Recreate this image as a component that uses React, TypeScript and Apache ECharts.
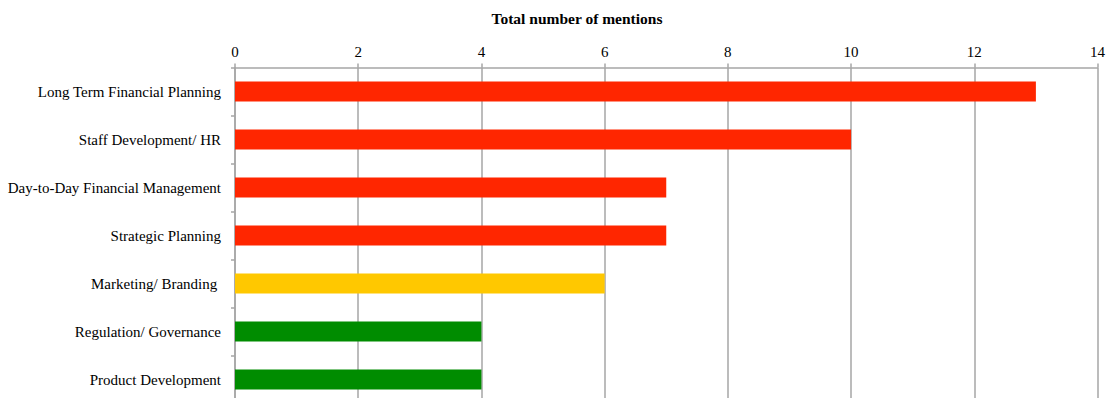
import React, { useEffect, useRef } from "react";
import * as echarts from "echarts";

const categories = [
  "Long Term Financial Planning",
  "Staff Development/ HR",
  "Day-to-Day Financial Management",
  "Strategic Planning",
  "Marketing/ Branding ",
  "Regulation/ Governance",
  "Product Development",
];
const values = [13, 10, 7, 7, 6, 4, 4];
const barColors = ["#FF2600", "#FF2600", "#FF2600", "#FF2600", "#FFC800", "#008C00", "#008C00"];
const titleText = "Total number of mentions";

const FONT = "'Liberation Serif', 'DejaVu Serif', serif";

export default function App() {
  const ref = useRef<HTMLDivElement>(null);
  useEffect(() => {
    if (!ref.current) return;
    const chart = echarts.init(ref.current, undefined, { renderer: "svg" });
    chart.setOption({
      animation: false,
      backgroundColor: "#FFFFFF",
      title: {
        text: titleText,
        left: 572,
        top: 5,
        textAlign: "center",
        textStyle: { fontFamily: FONT, fontSize: 15.5, fontWeight: "bold", color: "#000" },
      },
      grid: { left: 235, right: 8.5, top: 67.5, height: 336, containLabel: false },
      xAxis: {
        type: "value",
        position: "top",
        min: 0,
        max: 14,
        interval: 2,
        axisLine: { show: true, lineStyle: { color: "#A6A6A6", width: 1.5 } },
        axisTick: { show: true, length: 4, lineStyle: { color: "#A6A6A6", width: 1.5 } },
        axisLabel: { fontFamily: FONT, fontSize: 15, color: "#000", margin: 8 },
        splitLine: { show: true, lineStyle: { color: "#A6A6A6", width: 1.5 } },
      },
      yAxis: {
        type: "category",
        data: categories,
        inverse: true,
        axisLine: { show: true, lineStyle: { color: "#A6A6A6", width: 1.5 } },
        axisTick: { show: true, length: 4, lineStyle: { color: "#A6A6A6", width: 1.5 } },
        axisLabel: { fontFamily: FONT, fontSize: 15, color: "#000", margin: 14 },
      },
      series: [
        {
          type: "bar",
          data: values.map((v, i) => ({ value: v, itemStyle: { color: barColors[i] } })),
          barWidth: 20,
        },
      ],
    });
    return () => chart.dispose();
  }, []);
  return (
    <div
      ref={ref}
      style={{ position: "fixed", left: 0, top: 0, width: 1108, height: 430 }}
    />
  );
}
